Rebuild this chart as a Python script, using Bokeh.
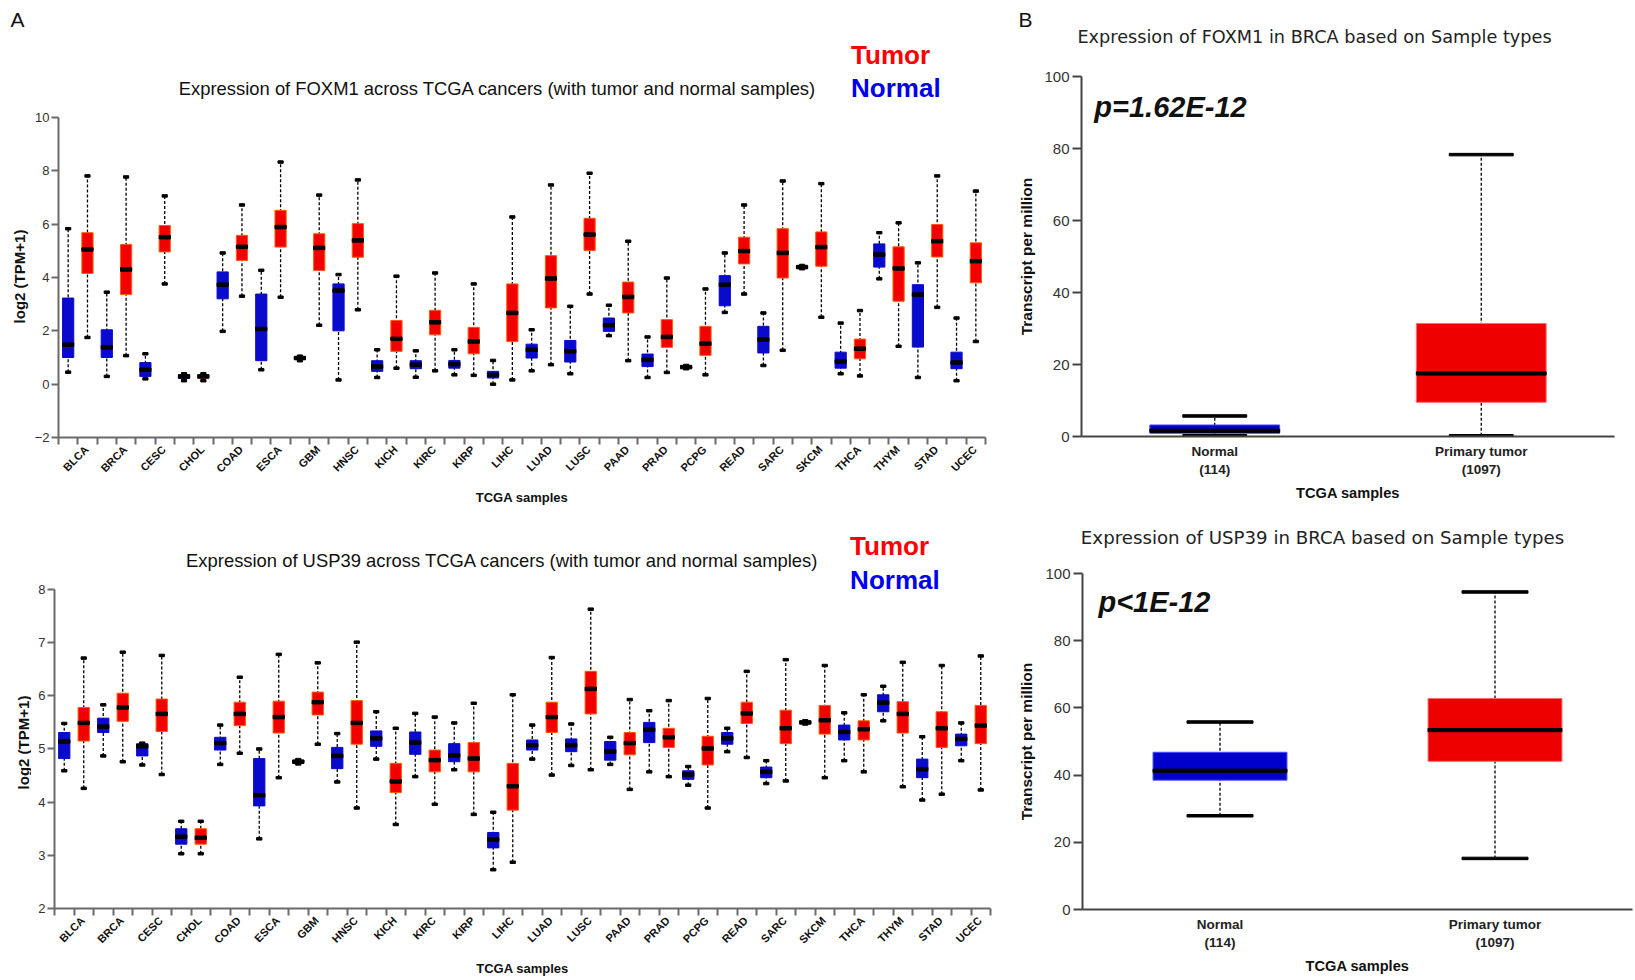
import numpy as np
from bokeh.plotting import figure
from bokeh.models import Label, FixedTicker, Range1d, ColumnDataSource
from bokeh.layouts import row, column
from bokeh.embed import file_html
from bokeh.resources import INLINE

cancers = ["BLCA", "BRCA", "CESC", "CHOL", "COAD", "ESCA", "GBM", "HNSC", "KICH", "KIRC",
           "KIRP", "LIHC", "LUAD", "LUSC", "PAAD", "PRAD", "PCPG", "READ", "SARC", "SKCM",
           "THCA", "THYM", "STAD", "UCEC"]

# each entry: (lower whisker, Q1, median, Q3, upper whisker)  -- log2(TPM+1)
foxm1_normal = [
    (0.45, 1.00, 1.48, 3.23, 5.83), (0.29, 1.00, 1.38, 2.04, 3.45), (0.20, 0.29, 0.54, 0.81, 1.14),
    (0.13, 0.22, 0.29, 0.35, 0.39), (1.98, 3.20, 3.73, 4.21, 4.92), (0.54, 0.88, 2.07, 3.38, 4.27),
    (0.88, 0.93, 0.98, 1.02, 1.05), (0.16, 2.00, 3.51, 3.76, 4.11), (0.25, 0.48, 0.66, 0.88, 1.29),
    (0.26, 0.58, 0.73, 0.88, 1.25), (0.35, 0.60, 0.75, 0.89, 1.29), (0.00, 0.23, 0.35, 0.48, 0.89),
    (0.50, 0.98, 1.29, 1.50, 2.04), (0.39, 0.83, 1.23, 1.64, 2.92), (1.82, 1.98, 2.21, 2.48, 2.96),
    (0.25, 0.66, 0.91, 1.13, 1.77), (0.58, 0.61, 0.64, 0.67, 0.70), (2.69, 2.94, 3.73, 4.07, 4.92),
    (0.70, 1.17, 1.67, 2.17, 2.67), (4.33, 4.36, 4.39, 4.42, 4.45), (0.39, 0.60, 0.85, 1.20, 2.29),
    (3.95, 4.39, 4.86, 5.26, 5.68), (0.25, 1.39, 3.36, 3.73, 4.55), (0.13, 0.58, 0.81, 1.20, 2.48),
]
foxm1_tumor = [
    (1.75, 4.15, 5.05, 5.68, 7.81), (1.07, 3.36, 4.30, 5.24, 7.77), (3.76, 4.96, 5.51, 5.95, 7.06),
    (0.13, 0.22, 0.29, 0.35, 0.39), (3.30, 4.64, 5.15, 5.58, 6.72), (3.26, 5.14, 5.89, 6.52, 8.33),
    (2.21, 4.26, 5.11, 5.64, 7.09), (2.79, 4.76, 5.39, 6.02, 7.66), (0.60, 1.23, 1.70, 2.39, 4.05),
    (0.50, 1.85, 2.32, 2.77, 4.17), (0.33, 1.14, 1.60, 2.13, 3.76), (0.16, 1.60, 2.67, 3.76, 6.27),
    (0.73, 2.86, 3.96, 4.82, 7.47), (3.38, 5.01, 5.61, 6.22, 7.91), (0.88, 2.67, 3.27, 3.83, 5.36),
    (0.44, 1.38, 1.77, 2.42, 3.98), (0.35, 1.08, 1.52, 2.17, 3.57), (3.38, 4.51, 4.99, 5.51, 6.72),
    (1.27, 3.98, 4.92, 5.83, 7.62), (2.51, 4.42, 5.14, 5.71, 7.52), (0.31, 0.95, 1.33, 1.69, 2.76),
    (1.42, 3.11, 4.34, 5.15, 6.05), (2.88, 4.77, 5.36, 5.99, 7.81), (1.60, 3.80, 4.61, 5.30, 7.24),
]
usp39_normal = [
    (4.59, 4.82, 5.14, 5.31, 5.48), (4.87, 5.31, 5.42, 5.58, 5.83), (4.70, 4.87, 5.05, 5.10, 5.11),
    (3.03, 3.21, 3.35, 3.50, 3.64), (4.71, 4.98, 5.11, 5.22, 5.45), (3.31, 3.93, 4.13, 4.82, 5.00),
    (4.72, 4.74, 4.76, 4.79, 4.80), (4.38, 4.63, 4.87, 5.03, 5.29), (4.81, 5.05, 5.20, 5.34, 5.70),
    (4.48, 4.90, 5.12, 5.32, 5.67), (4.61, 4.76, 4.88, 5.10, 5.49), (2.73, 3.14, 3.30, 3.43, 3.81),
    (4.81, 4.98, 5.07, 5.17, 5.45), (4.69, 4.95, 5.07, 5.19, 5.47), (4.71, 4.79, 4.95, 5.14, 5.22),
    (4.57, 5.12, 5.36, 5.50, 5.72), (4.32, 4.43, 4.52, 4.59, 4.67), (4.95, 5.09, 5.20, 5.31, 5.39),
    (4.35, 4.46, 4.57, 4.66, 4.78), (5.47, 5.48, 5.50, 5.52, 5.53), (4.78, 5.17, 5.32, 5.45, 5.68),
    (5.53, 5.70, 5.87, 6.02, 6.18), (4.04, 4.46, 4.62, 4.81, 5.23), (4.78, 5.06, 5.19, 5.28, 5.49),
]
usp39_tumor = [
    (4.26, 5.15, 5.49, 5.78, 6.71), (4.76, 5.52, 5.78, 6.05, 6.82), (4.52, 5.33, 5.66, 5.94, 6.76),
    (3.03, 3.21, 3.33, 3.50, 3.64), (4.92, 5.44, 5.66, 5.88, 6.35), (4.46, 5.30, 5.60, 5.90, 6.78),
    (5.09, 5.64, 5.88, 6.07, 6.62), (3.89, 5.09, 5.49, 5.91, 7.01), (3.58, 4.18, 4.39, 4.73, 5.39),
    (3.96, 4.57, 4.79, 4.98, 5.60), (3.77, 4.57, 4.82, 5.12, 5.86), (2.87, 3.85, 4.30, 4.73, 6.02),
    (4.51, 5.31, 5.60, 5.88, 6.72), (4.61, 5.66, 6.13, 6.46, 7.63), (4.24, 4.89, 5.11, 5.31, 5.93),
    (4.48, 5.03, 5.22, 5.39, 5.91), (3.89, 4.70, 5.01, 5.24, 5.95), (4.84, 5.48, 5.67, 5.88, 6.46),
    (4.40, 5.10, 5.39, 5.73, 6.68), (4.46, 5.28, 5.54, 5.82, 6.57), (4.57, 5.17, 5.37, 5.53, 6.02),
    (4.29, 5.30, 5.66, 5.89, 6.63), (4.15, 5.03, 5.39, 5.70, 6.57), (4.23, 5.10, 5.44, 5.82, 6.75),
]

# BRCA sample types (Transcript per million)
brca_groups = ["Normal\n(114)", "Primary tumor\n(1097)"]
foxm1_brca = [(0.2, 0.9, 1.6, 3.2, 5.7), (0.2, 9.5, 17.5, 31.4, 78.3)]
usp39_brca = [(27.9, 38.5, 41.3, 46.8, 55.8), (15.2, 44.1, 53.4, 62.8, 94.5)]
foxm1_p = "p=1.62E-12"
usp39_p = "p<1E-12"

RED = "#F20000"
BLUE = "#0A0ACC"
LS = "Liberation Sans"
PAGE_H = 980


def draw_boxes(p, stats, xs, color, box_w, cap_w, med_h, whisk_w, cap_h, outline):
    lo, q1, med, q3, hi = (list(c) for c in zip(*stats))
    src = ColumnDataSource(dict(x=list(xs), lo=lo, q1=q1, med=med, q3=q3, hi=hi))
    p.segment(x0="x", y0="lo", x1="x", y1="hi", source=src, line_color="black",
              line_width=whisk_w, line_dash="3 2")
    p.vbar(x="x", width=box_w, bottom="q1", top="q3", source=src, fill_color=color,
           line_color=outline, line_width=1)
    p.rect(x="x", y="hi", width=cap_w, height=cap_h, height_units="screen", source=src,
           color="black")
    p.rect(x="x", y="lo", width=cap_w, height=cap_h, height_units="screen", source=src,
           color="black")
    p.rect(x="x", y="med", width=box_w, height=med_h, height_units="screen", source=src,
           color="black")


def lab(p, x, y, text, size, color="black", style="normal", align="left", font=LS, angle=0):
    p.add_layout(Label(x=x, y=y, text=text, text_font_size=size, text_color=color,
                       text_font_style=style, text_align=align, text_baseline="middle",
                       text_font=font, angle=angle))


def blank(width, height):
    s = figure(width=width, height=height, output_backend="svg", toolbar_location=None,
               x_range=Range1d(0, width), y_range=Range1d(0, height),
               x_axis_type=None, y_axis_type=None, min_border=0, frame_align=False)
    s.outline_line_color = None
    s.xgrid.visible = False
    s.ygrid.visible = False
    return s


def strip(width, letter, lx, ylabels):
    """Narrow text column at the left of a panel: panel letter and rotated y-axis titles."""
    s = blank(width, PAGE_H)
    lab(s, lx, PAGE_H - 19, letter, "21px", color="#111")
    for (txt, x, y, size) in ylabels:
        lab(s, x, PAGE_H - y, txt, size, color="#111", style="bold", align="center",
            angle=np.pi / 2)
    return s


def head(width, height, text, cx, cy, size):
    h = blank(width, height)
    lab(h, cx, height - cy, text, size, color="#222", align="center", font="DejaVu Sans")
    return h


def pancancer(width, height, ylo, ybound, ytop, yticks, borders, normal, tumor, title, t_xy, leg):
    p = figure(width=width, height=height, output_backend="svg", toolbar_location=None,
               x_range=Range1d(0, 2 * len(cancers)), y_range=Range1d(ylo, ytop),
               frame_align=False)
    p.min_border_left, p.min_border_right, p.min_border_top, p.min_border_bottom = borders
    p.outline_line_color = None
    p.xgrid.visible = False
    p.ygrid.visible = False
    n = len(cancers)
    draw_boxes(p, normal, [2 * i + 0.5 for i in range(n)], BLUE, 0.58, 0.27, 3.5, 1.3, 2.5, BLUE)
    draw_boxes(p, tumor, [2 * i + 1.5 for i in range(n)], RED, 0.58, 0.27, 3.5, 1.3, 2.5, "#FF5A00")
    lab_pos = [2 * i + 1.45 for i in range(n)]
    p.xaxis.ticker = FixedTicker(ticks=lab_pos, minor_ticks=list(range(2 * n + 1)))
    p.xaxis.major_label_overrides = {v: c for v, c in zip(lab_pos, cancers)}
    p.xaxis.major_label_orientation = np.pi / 4
    p.xaxis.major_label_text_font = LS
    p.xaxis.major_label_text_font_style = "bold"
    p.xaxis.major_label_text_font_size = "11px"
    p.xaxis.major_label_text_color = "#111"
    p.xaxis.major_label_standoff = 3
    p.xaxis.axis_label = "TCGA samples"
    for ax in (p.xaxis, p.yaxis):
        ax.axis_line_color = "#6a6a6a"
        ax.axis_line_width = 2
        ax.major_tick_line_color = "#6a6a6a"
        ax.minor_tick_line_color = "#6a6a6a"
        ax.major_tick_line_width = 2
        ax.minor_tick_line_width = 2
        ax.major_tick_in = 0
        ax.minor_tick_in = 0
        ax.major_tick_out = 7
        ax.minor_tick_out = 7
        ax.axis_label_text_font = LS
        ax.axis_label_text_font_style = "bold"
        ax.axis_label_text_font_size = "13px"
        ax.axis_label_text_color = "#111"
    p.xaxis.major_tick_out = 0
    p.xaxis.axis_label_standoff = 8
    p.yaxis.bounds = (ylo, ybound)
    p.yaxis.ticker = FixedTicker(ticks=yticks, minor_ticks=[])
    p.yaxis.major_label_text_font = LS
    p.yaxis.major_label_text_font_size = "13px"
    p.yaxis.major_label_text_color = "#333"
    p.yaxis.major_label_standoff = 2
    lab(p, t_xy[0], t_xy[1], title, "18.4px", color="#111", align="center")
    lab(p, leg[0], leg[1], "Tumor", "26px", color="#FF0000", style="bold")
    lab(p, leg[0], leg[2], "Normal", "26px", color="#0000EE", style="bold")
    return p


def brca_plot(width, height, ytop, borders, stats, pval, p_xy):
    p = figure(width=width, height=height, output_backend="svg", toolbar_location=None,
               x_range=Range1d(0, 2), y_range=Range1d(0, ytop), frame_align=False)
    p.min_border_left, p.min_border_right, p.min_border_top, p.min_border_bottom = borders
    p.outline_line_color = None
    p.xgrid.visible = False
    p.ygrid.visible = False
    draw_boxes(p, [stats[0]], [0.5], "#0000CC", 0.487, 0.24, 3.2, 1.3, 2.5, "#4A4AFF")
    draw_boxes(p, [stats[1]], [1.5], "#EE0000", 0.487, 0.24, 3.2, 1.3, 2.5, "#FF6A6A")
    p.xaxis.ticker = FixedTicker(ticks=[0.5, 1.5])
    p.xaxis.major_label_overrides = {0.5: brca_groups[0], 1.5: brca_groups[1]}
    p.xaxis.major_label_text_font = LS
    p.xaxis.major_label_text_font_style = "bold"
    p.xaxis.major_label_text_font_size = "13.5px"
    p.xaxis.major_label_text_color = "#222"
    p.xaxis.major_tick_out = 0
    p.xaxis.major_tick_in = 0
    p.xaxis.major_label_standoff = 7
    p.xaxis.axis_label = "TCGA samples"
    p.xaxis.axis_label_standoff = 5
    p.yaxis.bounds = (0, 100)
    p.yaxis.ticker = FixedTicker(ticks=[0, 20, 40, 60, 80, 100], minor_ticks=[])
    p.yaxis.major_label_text_font = LS
    p.yaxis.major_label_text_font_size = "15px"
    p.yaxis.major_label_text_color = "#333"
    p.yaxis.major_tick_out = 9
    p.yaxis.major_tick_in = 0
    p.yaxis.major_label_standoff = 3
    for ax in (p.xaxis, p.yaxis):
        ax.axis_line_color = "#444"
        ax.axis_line_width = 2
        ax.major_tick_line_color = "#444"
        ax.major_tick_line_width = 2
        ax.axis_label_text_font = LS
        ax.axis_label_text_font_style = "bold"
        ax.axis_label_text_font_size = "14.6px"
        ax.axis_label_text_color = "#111"
    lab(p, p_xy[0], p_xy[1], pval, "29px", color="#111", style="bold italic")
    return p


# ---- left half (panel A) ----
sA = strip(31, "A", 10, [("log2 (TPM+1)", 19, 276, "15px"), ("log2 (TPM+1)", 23, 742, "15px")])
p1 = pancancer(977, 512, -2, 10, 10 + 117 / 26.667, [-2, 0, 2, 4, 6, 8, 10],
               (23, 23, 0, 75), foxm1_normal, foxm1_tumor,
               "Expression of FOXM1 across TCGA cancers (with tumor and normal samples)",
               (22.74, 11.10), (41.04, 12.36, 11.10))
p2 = pancancer(977, 468, 2, 8, 8 + (589 - 512) / 53.17, [2, 3, 4, 5, 6, 7, 8],
               (23, 18, 0, 72), usp39_normal, usp39_tumor,
               "Expression of USP39 across TCGA cancers (with tumor and normal samples)",
               (22.97, 8.545), (40.8, 8.81, 8.17))

# ---- right half (panel B) ----
RW = 599          # right column spans page x 1036 .. 1635
sB = strip(28, "B", 10, [("Transcript per million", 18, 256, "15.5px"),
                         ("Transcript per million", 18, 741, "15.5px")])
h3 = head(RW, 50, "Expression of FOXM1 in BRCA based on Sample types", 1314 - 1036, 36.7, "17.7px")
p3 = brca_plot(RW, 462, 100 + (76 - 50) / 3.6, (45, 21, 0, 76), foxm1_brca,
               foxm1_p, (0.048, 91.4))
h4 = head(RW, 40, "Expression of USP39 in BRCA based on Sample types", 1322 - 1036, 537 - 512, "18.2px")
p4 = brca_plot(RW, 428, 100 + (573 - 552) / 3.36, (46, 3, 0, 71), usp39_brca,
               usp39_p, (0.058, 91.5))

layout = row(sA, column(p1, p2), sB, column(h3, p3, h4, p4))
open("out.html", "w").write(file_html(layout, INLINE))
